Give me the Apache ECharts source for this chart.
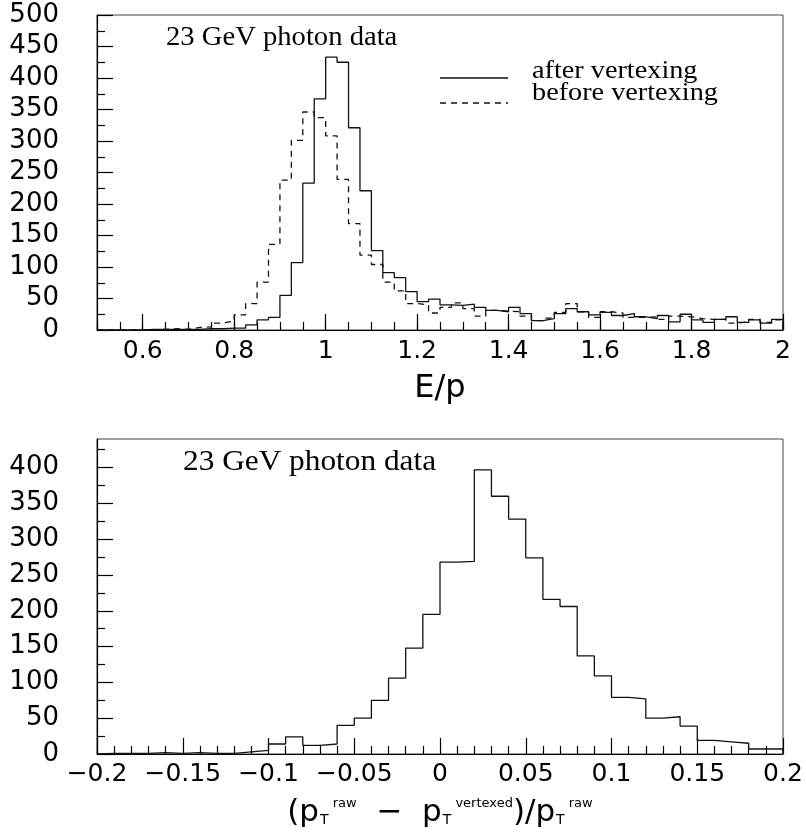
<!DOCTYPE html>
<html>
<head>
<meta charset="utf-8">
<script src="https://cdn.jsdelivr.net/npm/echarts@6/dist/echarts.min.js"></script>
<style>
  html, body { margin: 0; padding: 0; background: #fff; }
  #chart { width: 806px; height: 833px; }
</style>
</head>
<body>
<div id="chart"></div>
<script>
// ---- E/p distribution: 60 bins of 0.025 between 0.5 and 2.0 ----
const epMin = 0.5;
const epMax = 2.0;
const epBinWidth = 0.025;
const epAfter = [0, 0, 0, 0, 1, 1, 1, 1, 1, 2, 2, 3, 3, 8, 16, 20, 55, 107, 233, 367,
                 433, 425, 321, 221, 126, 91, 83, 61, 45, 49, 40, 39, 41, 36, 31, 29, 36, 26, 15, 18,
                 26, 34, 29, 24, 28, 23, 26, 21, 18, 23, 13, 25, 16, 12, 17, 21, 12, 16, 11, 17];
const epBefore = [0, 0, 0, 0, 0, 1, 2, 1, 4, 5, 11, 14, 24, 42, 76, 136, 238, 301, 346, 337,
                  308, 239, 169, 119, 104, 76, 62, 42, 40, 27, 36, 43, 34, 22, 31, 30, 29, 22, 15, 19,
                  28, 42, 29, 20, 29, 27, 20, 20, 21, 17, 22, 21, 18, 17, 17, 11, 13, 17, 12, 16];
const epLabelValues = [0.6, 0.8, 1, 1.2, 1.4, 1.6, 1.8, 2];
const epCountLabels = [0, 50, 100, 150, 200, 250, 300, 350, 400, 450, 500];

// ---- relative pT shift: 40 bins of 0.01 between -0.2 and 0.2 ----
const ptMin = -0.2;
const ptMax = 0.2;
const ptBinWidth = 0.01;
const ptShift = [1, 1, 1, 2, 1, 2, 1, 1, 3, 5, 14, 24, 12, 14, 40, 50, 75, 106, 148, 195,
                 268, 269, 397, 360, 328, 274, 216, 206, 137, 109, 79, 77, 50, 52, 39, 19, 17, 15, 7, 7];
const ptLabelValues = [-0.2, -0.15, -0.1, -0.05, 0, 0.05, 0.1, 0.15, 0.2];
const ptCountLabels = [0, 50, 100, 150, 200, 250, 300, 350, 400];

const annotation = '23 GeV photon data';
const legendNames = ['after vertexing', 'before vertexing'];

// histogram outline: one point per bin edge, drawn with step 'end'
function histogramOutline(values, x0, width) {
  const pts = [[x0, 0]];
  values.forEach((v, i) => pts.push([+(x0 + i * width).toFixed(4), v]));
  const xEnd = +(x0 + values.length * width).toFixed(4);
  pts.push([xEnd, values[values.length - 1]]);
  pts.push([xEnd, 0]);
  return pts;
}

const numFont = 'DejaVu Sans';
const ink = '#111';
const tickStyle = { color: '#000', width: 1.2 };

const fmt = v => String(+(+v).toFixed(3)).replace('-', '\u2212');

const gridBox = { left: 97, width: 686, height: 315, show: true, borderColor: '#444', borderWidth: 1, backgroundColor: 'transparent' };

function countAxis(gridIndex, max, labels) {
  return {
    type: 'value', gridIndex: gridIndex, min: 0, max: max, interval: 50,
    axisLine: { show: true, onZero: false, lineStyle: tickStyle },
    axisTick: { show: true, inside: true, length: 16, customValues: labels, lineStyle: tickStyle },
    minorTick: { show: true, splitNumber: 2, length: 8, lineStyle: tickStyle },
    axisLabel: { customValues: labels, color: '#000', fontFamily: numFont, fontSize: 26, margin: 38 },
    splitLine: { show: false }
  };
}

const chart = echarts.init(document.getElementById('chart'), null, { renderer: 'canvas' });

const option = {
  animation: false,
  backgroundColor: '#fff',
  grid: [
    Object.assign({ top: 15 }, gridBox),
    Object.assign({ top: 439 }, gridBox)
  ],
  xAxis: [
    {
      type: 'value', gridIndex: 0, position: 'bottom', min: epMin, max: epMax,
      axisLine: { show: true, onZero: false, lineStyle: tickStyle },
      axisTick: { show: true, inside: true, length: 16, customValues: epLabelValues, lineStyle: tickStyle },
      axisLabel: { customValues: epLabelValues, formatter: fmt, color: '#000', fontFamily: numFont, fontSize: 25, margin: 9 },
      splitLine: { show: false },
      name: 'E/p', nameLocation: 'middle', nameGap: 42,
      nameTextStyle: { fontFamily: numFont, fontSize: 32, color: '#000', lineHeight: 34 }
    },
    {
      // short ticks every 0.05
      type: 'value', gridIndex: 0, position: 'bottom', min: epMin, max: epMax, interval: 0.05,
      axisLine: { show: false, onZero: false },
      axisTick: { show: true, inside: true, length: 8, lineStyle: tickStyle },
      axisLabel: { show: false },
      splitLine: { show: false }
    },
    {
      type: 'value', gridIndex: 1, position: 'bottom', min: ptMin, max: ptMax, interval: 0.05,
      axisLine: { show: true, onZero: false, lineStyle: tickStyle },
      axisTick: { show: true, inside: true, length: 16, customValues: ptLabelValues, lineStyle: tickStyle },
      minorTick: { show: true, splitNumber: 5, length: 8, lineStyle: tickStyle },
      axisLabel: { customValues: ptLabelValues, formatter: fmt, color: '#000', fontFamily: numFont, fontSize: 25, margin: 8 },
      splitLine: { show: false },
      name: '{n|(p}{sub|T}{sup| raw}{n|  \u2212  p}{sub|T}{sup| vertexed}{n|)/p}{sub|T}{sup| raw}',
      nameLocation: 'middle', nameGap: 42,
      nameTextStyle: {
        fontFamily: numFont, color: '#000',
        rich: {
          n: { fontFamily: numFont, fontSize: 31, lineHeight: 34, verticalAlign: 'middle', color: '#000' },
          sub: { fontFamily: numFont, fontSize: 14, lineHeight: 14, verticalAlign: 'bottom', padding: [0, 0, 3, 1], color: '#000' },
          sup: { fontFamily: numFont, fontSize: 13, lineHeight: 13, verticalAlign: 'top', padding: [1, 0, 0, 0], color: '#000' }
        }
      }
    }
  ],
  yAxis: [
    countAxis(0, 500, epCountLabels),
    countAxis(1, 440, ptCountLabels)
  ],
  series: [
    {
      name: legendNames[0], type: 'line', xAxisIndex: 0, yAxisIndex: 0, step: 'end',
      showSymbol: false, symbol: 'none', clip: true,
      lineStyle: { color: ink, width: 1.3 },
      data: histogramOutline(epAfter, epMin, epBinWidth)
    },
    {
      name: legendNames[1], type: 'line', xAxisIndex: 0, yAxisIndex: 0, step: 'end',
      showSymbol: false, symbol: 'none', clip: true,
      lineStyle: { color: ink, width: 1.3, type: [6, 5] },
      data: histogramOutline(epBefore, epMin, epBinWidth)
    },
    {
      name: 'shift', type: 'line', xAxisIndex: 2, yAxisIndex: 1, step: 'end',
      showSymbol: false, symbol: 'none', clip: true,
      lineStyle: { color: ink, width: 1.3 },
      data: histogramOutline(ptShift, ptMin, ptBinWidth)
    }
  ],
  graphic: [
    { type: 'text', x: 166, y: 38, scaleX: 1.08, style: { text: annotation, font: '26.5px "Liberation Serif"', fill: '#000', verticalAlign: 'middle', align: 'left' } },
    { type: 'text', x: 183, y: 462, scaleX: 1.08, style: { text: annotation, font: '29px "Liberation Serif"', fill: '#000', verticalAlign: 'middle', align: 'left' } },
    { type: 'line', shape: { x1: 440, y1: 78, x2: 508, y2: 78 }, style: { stroke: ink, lineWidth: 1.3 } },
    { type: 'line', shape: { x1: 440, y1: 103, x2: 508, y2: 103 }, style: { stroke: ink, lineWidth: 1.3, lineDash: [6, 5] } },
    { type: 'text', x: 532, y: 71, scaleX: 1.13, style: { text: legendNames[0], font: '25px "Liberation Serif"', fill: '#000', verticalAlign: 'middle', align: 'left' } },
    { type: 'text', x: 532, y: 93, scaleX: 1.13, style: { text: legendNames[1], font: '25px "Liberation Serif"', fill: '#000', verticalAlign: 'middle', align: 'left' } }
  ]
};

chart.setOption(option);
</script>
</body>
</html>
